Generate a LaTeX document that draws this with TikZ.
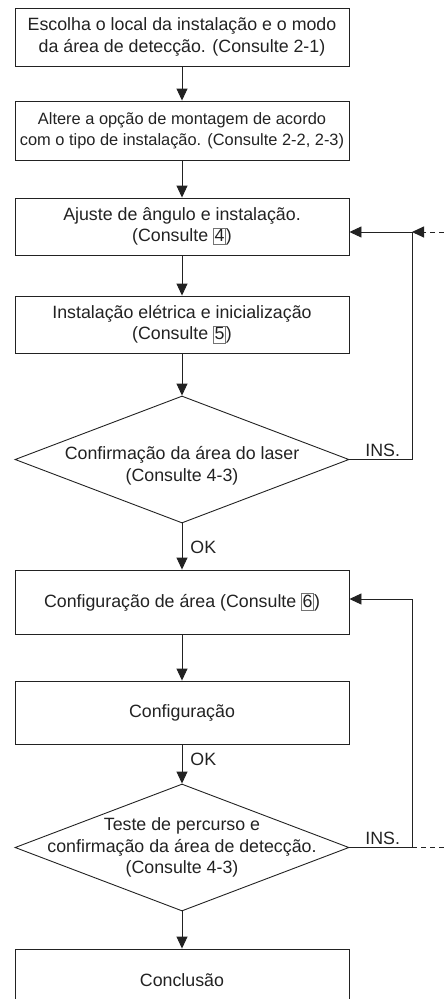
\documentclass[tikz,border=0pt]{standalone}
\usepackage{fontspec}
\setmainfont{Liberation Sans}
\usetikzlibrary{arrows.meta,shapes.geometric}
\definecolor{ink}{HTML}{222222}
% small framed section number, as used in the cross references
\newcommand\secref[1]{{\setlength\fboxsep{0.8pt}\setlength\fboxrule{0.6pt}\fcolorbox{black!55}{white}{\rule[-1.8pt]{0pt}{14.6pt}#1}}}

\begin{document}
\begin{tikzpicture}[x=1pt,y=-1pt,
  txt/.style={font=\fontsize{17.8}{21.5}\selectfont, text=ink},
  stepbox/.style={txt, draw=ink, line width=0.9pt, minimum width=334pt, inner sep=0pt, align=center},
  decision/.style={draw=ink, line width=0.9pt, diamond, minimum width=334pt, minimum height=127pt, inner sep=0pt},
  flow/.style={draw=ink, line width=0.9pt, -{Triangle[length=12pt,width=11pt]}},
  link/.style={draw=ink, line width=0.9pt},
  back/.style={draw=ink, line width=0.9pt, dash pattern=on 5pt off 4pt},
  tag/.style={txt, inner sep=0pt}]
\useasboundingbox (0,0) rectangle (444,999);
\clip (0,0) rectangle (444,999);

% process steps
\node[stepbox, minimum height=58pt] (s1) at (182,37)
  {Escolha o local da instalação e o modo\\da área de detecção. (Consulte 2-1)};
\node[stepbox, minimum height=59pt, font=\fontsize{16.4}{21}\selectfont] (s2) at (182,130.5)
  {Altere a opção de montagem de acordo\\com o tipo de instalação. (Consulte 2-2, 2-3)};
\node[stepbox, minimum height=57pt] (s3) at (182,226.5)
  {Ajuste de ângulo e instalação.\\(Consulte \secref{4})};
\node[stepbox, minimum height=57pt] (s4) at (182,324.5)
  {Instalação elétrica e inicialização\\(Consulte \secref{5})};
\node[decision] (d1) at (182,459.5) {};
\node[txt, align=center] (d1t) at (182,466)
  {Confirmação da área do laser\\(Consulte 4-3)};
\node[stepbox, minimum height=64pt] (s5) at (182,602)
  {Configuração de área (Consulte \secref{6})};
\node[stepbox, minimum height=63pt] (s6) at (182,712.5) {Configuração};
\node[decision] (d2) at (182,847.5) {};
\node[txt, align=center] (d2t) at (d2.center)
  {Teste de percurso e\\confirmação da área de detecção.\\(Consulte 4-3)};
\node[stepbox, minimum height=62pt] (s7) at (182,980) {Conclusão};

% main flow
\draw[flow] (s1) -- (s2);
\draw[flow] (s2) -- (s3);
\draw[flow] (s3) -- (s4);
\draw[flow] (s4) -- (d1.north);
\draw[flow] (d1.south) -- node[tag, anchor=west, xshift=8pt, yshift=-1pt] (ok1) {OK} (s5);
\draw[flow] (s5) -- (s6);
\draw[flow] (s6) -- node[tag, anchor=west, xshift=8pt, yshift=5pt] (ok2) {OK} (d2.north);
\draw[flow] (d2.south) -- (s7);

% loops back on failure
\coordinate (j1) at (412,232);
\coordinate (j2) at (412,599);
\coordinate (e1) at (444,232);
\coordinate (e2) at (444,847.5);
\draw[link] (d1.east) -- node[tag, anchor=south, yshift=2pt, xshift=2pt] (ins1) {INS.} (d1.east -| j1) -- (j1);
\draw[flow] (j1) -- (s3.east |- j1);
\draw[back, -{Triangle[length=12pt,width=11pt]}] (e1) -- (j1);
\draw[link] (d2.east) -- node[tag, anchor=south, yshift=2pt, xshift=2pt] (ins2) {INS.} (d2.east -| j2) -- (j2);
\draw[flow] (j2) -- (s5.east |- j2);
\draw[back] (d2.east -| j2) -- (e2);
\end{tikzpicture}
\end{document}
